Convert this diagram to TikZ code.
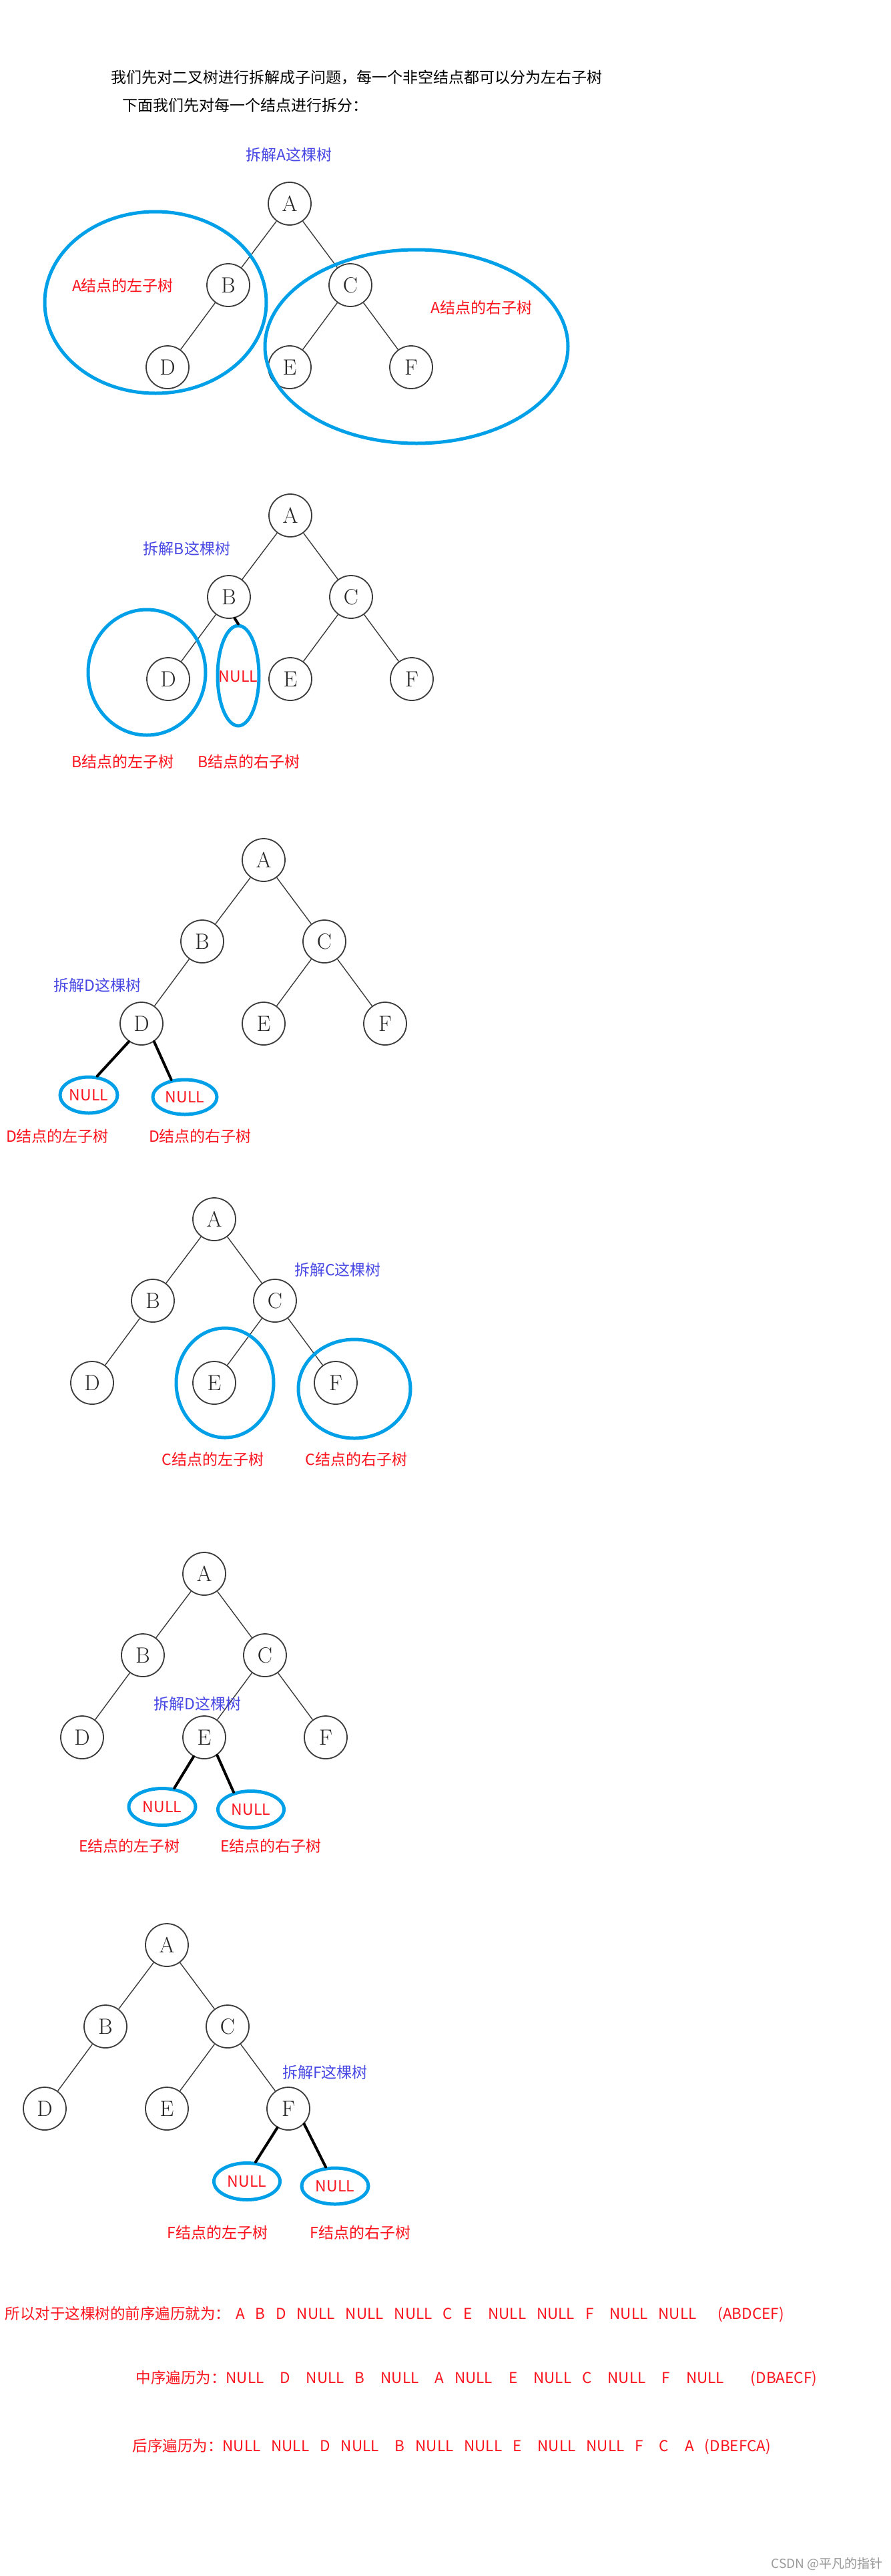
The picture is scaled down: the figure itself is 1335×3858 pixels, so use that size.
\documentclass[tikz,border=0pt]{standalone}
\usepackage{fontspec}
\newfontfamily\cjk{Noto Sans CJK SC}
\usepackage{tikz}
\usetikzlibrary{shapes}

\definecolor{ringblue}{RGB}{0,160,233}
\definecolor{notered}{RGB}{250,20,30}
\definecolor{tagblue}{RGB}{72,72,228}
\definecolor{inkgray}{RGB}{60,60,60}

\tikzset{
  treenode/.style={circle,draw=inkgray,text=black!85,line width=1.8pt,minimum size=64pt,inner sep=0pt,font=\fontsize{33}{33}\selectfont},
  treeedge/.style={draw=inkgray,line width=1.4pt},
  ring/.style={ellipse,draw=ringblue,line width=5pt,inner sep=0pt},
  nullline/.style={draw=black,line width=4pt,line cap=round},
  cjktext/.style={font=\cjk\fontsize{23}{23}\selectfont},
  redtext/.style={cjktext,text=notered},
  bluetext/.style={cjktext,text=tagblue},
  ordertext/.style={text=notered,anchor=west,font=\cjk\fontsize{22.5}{23}\selectfont,execute at begin node={\spaceskip=8pt\relax}}
}

\newcommand\bintree[3]{%
  \node[treenode] (#1A) at (#2,#3) {A};
  \node[treenode] (#1B) at ({#2-92},{#3+122}) {B};
  \node[treenode] (#1C) at ({#2+91},{#3+122}) {C};
  \node[treenode] (#1D) at ({#2-183},{#3+245}) {D};
  \node[treenode] (#1E) at ({#2},{#3+245}) {E};
  \node[treenode] (#1F) at ({#2+182},{#3+245}) {F};
  \draw[treeedge] (#1A) -- (#1B) (#1A) -- (#1C) (#1B) -- (#1D) (#1C) -- (#1E) (#1C) -- (#1F);
}

\begin{document}
\begin{tikzpicture}[x=1pt,y=-1pt]
  \useasboundingbox (0,0) rectangle (1335,3858);
  \fill[white] (0,0) rectangle (1335,3858);

  \node[cjktext,anchor=west] (head1) at (163,116) {我们先对二叉树进行拆解成子问题，每一个非空结点都可以分为左右子树};
  \node[cjktext,anchor=west] (head2) at (180,158) {下面我们先对每一个结点进行拆分：};

  \bintree{a}{434}{305}
  \node[bluetext] (taga) at (433,232) {拆解A这棵树};
  \node[ring,minimum width=332pt,minimum height=272pt] (aleft) at (233,453) {};
  \node[ring,minimum width=454pt,minimum height=290pt] (aright) at (624,519) {};
  \node[redtext] (alabl) at (184,428) {A结点的左子树};
  \node[redtext] (alabr) at (721,461) {A结点的右子树};

  \bintree{b}{435}{772}
  \node[bluetext] (tagb) at (280,822) {拆解B这棵树};
  \node[ring,minimum width=176pt,minimum height=188pt] (bleft) at (220,1007) {};
  \node[ring,minimum width=62pt,minimum height=150pt] (bright) at (357,1012) {};
  \node[redtext] (bnull) at (357,1013) {NULL};
  \draw[nullline] (bB.-75) -- (bright.north);
  \node[redtext] (blabl) at (184,1141) {B结点的左子树};
  \node[redtext] (blabr) at (373,1141) {B结点的右子树};

  \bintree{c}{395}{1288}
  \node[bluetext] (tagc) at (146,1476) {拆解D这棵树};
  \node[ring,redtext,minimum width=86pt,minimum height=54pt] (cnl) at (133,1640) {NULL};
  \node[ring,redtext,minimum width=96pt,minimum height=52pt] (cnr) at (277,1643) {NULL};
  \draw[nullline] (cD.-125) -- (cnl.66);
  \draw[nullline] (cD.-55) -- (cnr.128);
  \node[redtext] (clabl) at (86,1702) {D结点的左子树};
  \node[redtext] (clabr) at (300,1702) {D结点的右子树};

  \bintree{d}{321}{1826}
  \node[bluetext] (tagd) at (506,1902) {拆解C这棵树};
  \node[ring,minimum width=146pt,minimum height=164pt] (dleft) at (337,2071) {};
  \node[ring,minimum width=168pt,minimum height=148pt] (dright) at (531,2080) {};
  \node[redtext] (dlabl) at (319,2186) {C结点的左子树};
  \node[redtext] (dlabr) at (534,2186) {C结点的右子树};

  \bintree{e}{306}{2357}
  \node[bluetext] (tage) at (296,2552) {拆解D这棵树};
  \node[ring,redtext,minimum width=100pt,minimum height=55pt] (enl) at (243,2706) {NULL};
  \node[ring,redtext,minimum width=99pt,minimum height=55pt] (enr) at (376,2710) {NULL};
  \draw[nullline] (eE.-119) -- (enl.57);
  \draw[nullline] (eE.-54) -- (enr.135);
  \node[redtext] (elabl) at (194,2765) {E结点的左子树};
  \node[redtext] (elabr) at (406,2765) {E结点的右子树};

  \bintree{f}{250}{2913}
  \node[bluetext] (tagf) at (487,3104) {拆解F这棵树};
  \node[ring,redtext,minimum width=99pt,minimum height=55pt] (fnl) at (370,3267) {NULL};
  \node[ring,redtext,minimum width=100pt,minimum height=54pt] (fnr) at (502,3274) {NULL};
  \draw[nullline] (fF.-120) -- (fnl.66);
  \draw[nullline] (fF.-44) -- (fnr.116);
  \node[redtext] (flabl) at (326,3344) {F结点的左子树};
  \node[redtext] (flabr) at (540,3344) {F结点的右子树};

  \node[ordertext] (preorder) at (4,3466) {所以对于这棵树的前序遍历就为：~A~~B~~D~~NULL~~NULL~~NULL~~C~~E~~~NULL~~NULL~~F~~~NULL~~NULL~~~~(ABDCEF)};
  \node[ordertext] (inorder) at (200,3562) {中序遍历为：NULL~~~D~~~NULL~~B~~~NULL~~~A~~NULL~~~E~~~NULL~~C~~~NULL~~~F~~~NULL~~~~~(DBAECF)};
  \node[ordertext] (postorder) at (195,3664) {后序遍历为：NULL~~NULL~~D~~NULL~~~B~~NULL~~NULL~~E~~~NULL~~NULL~~F~~~C~~~A~~(DBEFCA)};

  \node[anchor=east,text=black!40,font=\cjk\fontsize{19}{19}\selectfont] (mark) at (1326,3840) {CSDN @平凡的指针};
\end{tikzpicture}
\end{document}
